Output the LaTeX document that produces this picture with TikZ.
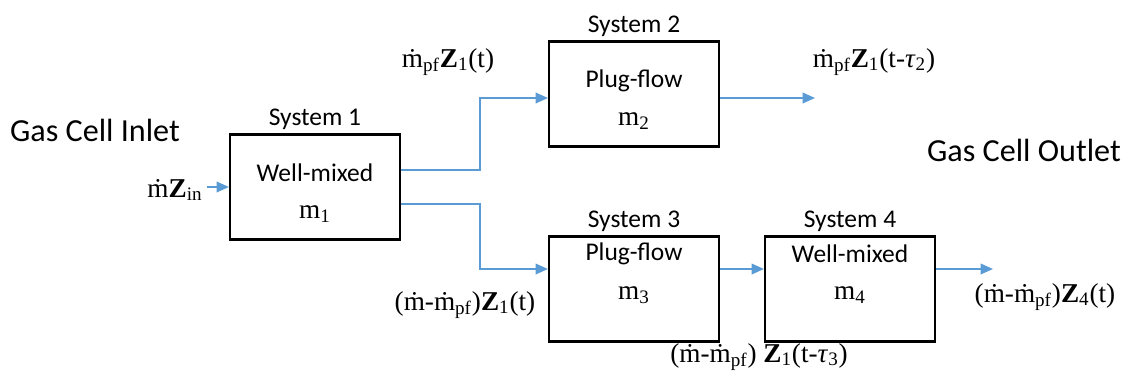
\documentclass[tikz,border=0pt]{standalone}
\usepackage{fontspec}
\setmainfont{Carlito}
\newfontfamily\eqfont{Liberation Serif}
\usetikzlibrary{arrows.meta, positioning}

\definecolor{flowblue}{HTML}{5B9BD5}

\newcommand{\mdot}{\.{m}}

\begin{document}
\begin{tikzpicture}[
    x=0.02cm, y=-0.02cm,
    node distance=0.3mm,
    sysbox/.style={
        rectangle,
        draw,
        line width=1.2pt,
        minimum width=3.4cm,
        minimum height=2.1cm
    },
    boxtext/.style={font=\fontsize{14.5}{16}\selectfont},
    title/.style={font=\fontsize{14.5}{16}\selectfont, inner sep=1pt},
    side/.style={font=\fontsize{18.3}{21}\selectfont},
    eq/.style={font=\eqfont\fontsize{15.5}{17}\selectfont},
    flow/.style={-{Triangle[length=7pt,width=6pt]}, flowblue, line width=1pt}
]
\useasboundingbox (0,0) rectangle (1123,376);

% boxes
\node[sysbox] (sys1) at (315,187) {};
\node[sysbox] (sys2) at (634,94) {};
\node[sysbox] (sys3) at (634,289) {};
\node[sysbox] (sys4) at (850,289) {};

\node[title, above=of sys1] (t1) {System 1};
\node[title, above=of sys2] (t2) {System 2};
\node[title, above=of sys3] (t3) {System 3};
\node[title, above=of sys4] (t4) {System 4};

% box contents
\node[boxtext] (w1) at (315,173) {Well-mixed};
\node[eq] (m1) at (315,214) {m\textsubscript{1}};
\node[boxtext] (p2) at (634,81) {Plug-flow};
\node[eq] (m2) at (634,121) {m\textsubscript{2}};
\node[boxtext] (p3) at (634,254) {Plug-flow};
\node[eq] (m3) at (634,295) {m\textsubscript{3}};
\node[boxtext] (w4) at (850,254) {Well-mixed};
\node[eq] (m4) at (850,295) {m\textsubscript{4}};

% side labels
\node[side] (inlet) at (95,130) {Gas Cell Inlet};
\node[side] (outlet) at (1024,150) {Gas Cell Outlet};

% stream labels
\node[eq] (zin) at (175,190) {\mdot\textbf{Z}\textsubscript{in}};
\node[eq] (z12) at (448,62) {\mdot\textsubscript{pf}\textbf{Z}\textsubscript{1}(t)};
\node[eq] (z2out) at (874,62) {\mdot\textsubscript{pf}\textbf{Z}\textsubscript{1}(t-\textit{τ}\textsubscript{2})};
\node[eq] (z13) at (465,305) {(\mdot-\mdot\textsubscript{pf})\textbf{Z}\textsubscript{1}(t)};
\node[eq] (z34) at (759,357) {(\mdot-\mdot\textsubscript{pf}) \textbf{Z}\textsubscript{1}(t-\textit{τ}\textsubscript{3})};
\node[eq] (z4out) at (1045,297) {(\mdot-\mdot\textsubscript{pf})\textbf{Z}\textsubscript{4}(t)};

% connectors
\coordinate (inA) at (207,187);
\coordinate (out2) at (815,98);
\coordinate (out4) at (993,269);

\draw[flow] (inA) -- (sys1.west);
\draw[flow] ([yshift=0.34cm]sys1.east) -- (480,170) |- ([yshift=-0.08cm]sys2.west);
\draw[flow] ([yshift=-0.34cm]sys1.east) -- (480,204) |- ([yshift=0.4cm]sys3.west);
\draw[flow] ([yshift=-0.08cm]sys2.east) -- (out2);
\draw[flow] ([yshift=0.4cm]sys3.east) -- ([yshift=0.4cm]sys4.west);
\draw[flow] ([yshift=0.4cm]sys4.east) -- (out4);

\end{tikzpicture}
\end{document}
